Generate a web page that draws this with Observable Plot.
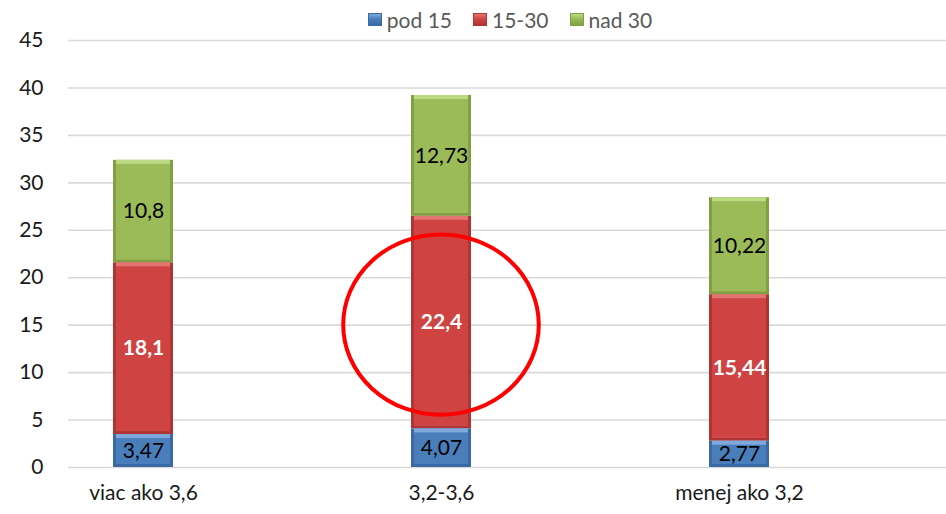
<!DOCTYPE html>
<html>
<head>
<meta charset="utf-8">
<script src="https://cdn.jsdelivr.net/npm/d3@7"></script>
<script src="https://cdn.jsdelivr.net/npm/@observablehq/plot@0.6"></script>
<style>
  body { margin: 0; background: #fff; font-family: Lato, "Open Sans", sans-serif; }
  #legend { width: 946px; height: 32px; box-sizing: border-box; padding-left: 74px; padding-top: 7px;
            display: flex; justify-content: center; align-items: center; gap: 21px;
            font-size: 21px; color: #595959; position: relative; z-index: 2; }
  .item { display: flex; align-items: center; gap: 5px; }
  .sw { width: 14px; height: 13px; box-sizing: border-box; }
  #chart { margin-top: -12px; position: relative; z-index: 1; }
  #chart svg { display: block; }
</style>
</head>
<body>
<div id="legend"></div>
<div id="chart"></div>
<script>
const categories = ["viac ako 3,6", "3,2-3,6", "menej ako 3,2"];
const series = ["pod 15", "15-30", "nad 30"];
const pod15 = [3.47, 4.07, 2.77];
const s15to30 = [18.1, 22.4, 15.44];
const nad30 = [10.8, 12.73, 10.22];
const yTicks = [0, 5, 10, 15, 20, 25, 30, 35, 40, 45];
const highlight = [{category: "3,2-3,6", y: 15, ry: 9.5}];

const values = {"pod 15": pod15, "15-30": s15to30, "nad 30": nad30};
const data = series.flatMap(s => categories.map((c, i) => ({category: c, series: s, value: values[s][i]})));

const main  = {"pod 15": "#4a7ebb", "15-30": "#cf4442", "nad 30": "#9bbb59"};
const dark  = {"pod 15": "#3a6aa3", "15-30": "#ad3533", "nad 30": "#81a044"};
const light = {"pod 15": "#7fa9dc", "15-30": "#e27472", "nad 30": "#bcd984"};

const fmt = v => String(v).replace(".", ",");

// legend
const legend = document.getElementById("legend");
for (const s of series) {
  const it = document.createElement("div");
  it.className = "item";
  const sw = document.createElement("div");
  sw.className = "sw";
  sw.style.background = `linear-gradient(to bottom, ${light[s]} 0%, ${main[s]} 45%, ${dark[s]} 100%)`;
  sw.style.border = `1px solid ${dark[s]}`;
  const tx = document.createElement("span");
  tx.textContent = s;
  it.append(sw, tx);
  legend.append(it);
}

function ellipseMark(index, scales) {
  const ns = "http://www.w3.org/2000/svg";
  const g = document.createElementNS(ns, "g");
  const x = scales.x, y = scales.y;
  const bw = typeof x.bandwidth === "function" ? x.bandwidth() : (scales.scales?.x?.bandwidth ?? 0);
  for (const h of highlight) {
    const e = document.createElementNS(ns, "ellipse");
    e.setAttribute("cx", x(h.category) + bw / 2);
    e.setAttribute("cy", y(h.y));
    e.setAttribute("rx", bw * 1.63);
    e.setAttribute("ry", Math.abs(y(h.y) - y(h.y + h.ry)));
    e.setAttribute("fill", "none");
    e.setAttribute("stroke", "#ff0000");
    e.setAttribute("stroke-width", 4);
    g.append(e);
  }
  return g;
}

const plot = Plot.plot({
  width: 946,
  height: 494,
  marginLeft: 68,
  marginRight: 0,
  marginTop: 20,
  marginBottom: 47,
  style: {fontFamily: "Lato, 'Open Sans', sans-serif", fontSize: "21px", color: "#1a1a1a", background: "transparent", overflow: "visible"},
  x: {type: "band", domain: categories, range: [112, 769], paddingInner: 0.8, paddingOuter: 0, label: null},
  y: {domain: [0, 45], label: null},
  color: {type: "identity"},
  marks: [
    Plot.ruleY(yTicks, {stroke: "#d9d9d9", strokeWidth: 1.6}),
    Plot.axisY({ticks: yTicks, tickSize: 0, tickPadding: 25, fontSize: 21, label: null}),
    Plot.axisX({tickSize: 0, tickPadding: 18, fontSize: 21, label: null}),
    Plot.barY(data, {x: "category", y: "value", fill: d => dark[d.series]}),
    Plot.barY(data, {x: "category", y: "value", fill: d => light[d.series], insetLeft: 3, insetRight: 3, insetBottom: 3}),
    Plot.barY(data, {x: "category", y: "value", fill: d => main[d.series], insetLeft: 3, insetRight: 3, insetBottom: 3, insetTop: 4}),
    Plot.text(data, Plot.stackY({x: "category", y: "value",
      text: d => d.series === "15-30" ? null : fmt(d.value), fill: "#000", fontSize: 21})),
    Plot.text(data, Plot.stackY({x: "category", y: "value",
      text: d => d.series === "15-30" ? fmt(d.value) : null, fill: "#fff", fontWeight: "bold", fontSize: 21})),
    ellipseMark
  ]
});
document.getElementById("chart").append(plot);
</script>
</body>
</html>
